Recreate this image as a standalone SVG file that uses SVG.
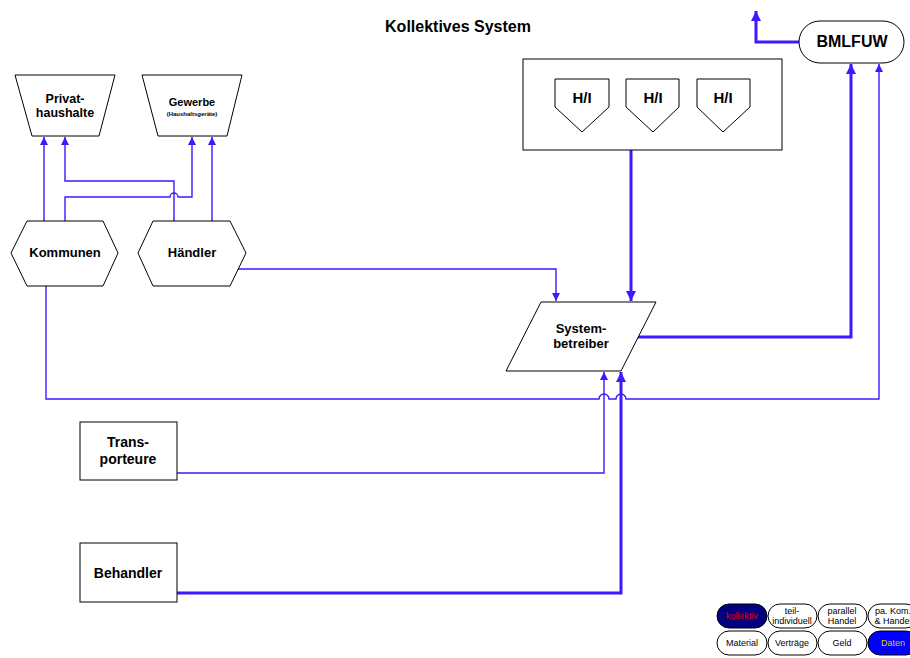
<svg xmlns="http://www.w3.org/2000/svg" width="910" height="658" viewBox="0 0 910 658">
  <style>
    .shape { fill: #ffffff; stroke: #000000; stroke-width: 1; }
    .lbl { font-family: "Liberation Sans", Arial, sans-serif; font-weight: bold; fill: #000000; text-anchor: middle; }
    .thin { fill: none; stroke: #3a1aff; stroke-width: 1.4; }
    .thick { fill: none; stroke: #3a1aff; stroke-width: 3; }
    .leg { font-family: "Liberation Sans", Arial, sans-serif; font-size: 9px; text-anchor: middle; fill: #000000; }
  </style>
  <defs>
    <marker id="ahThin" markerUnits="userSpaceOnUse" viewBox="0 0 10 10" refX="10" refY="5" markerWidth="8" markerHeight="8" orient="auto">
      <path d="M0,0 L10,5 L0,10 z" fill="#3a1aff"/>
    </marker>
    <marker id="ahThick" markerUnits="userSpaceOnUse" viewBox="0 0 10 10" refX="10" refY="5" markerWidth="11" markerHeight="10" orient="auto">
      <path d="M0,0 L10,5 L0,10 z" fill="#3a1aff"/>
    </marker>
  </defs>

  <rect width="910" height="658" fill="#ffffff"/>

  <text class="lbl" x="458" y="32" font-size="16">Kollektives System</text>

  <!-- connectors -->
  <g id="connectors">
    <!-- Kommunen -> Privathaushalte -->
    <path class="thin" d="M44,221 L44,137" marker-end="url(#ahThin)"/>
    <!-- Kommunen -> Gewerbe (hops over Händler line) -->
    <path class="thin" d="M65,221 L65,197 L170,197 A4,4 0 0 1 178,197 L192,197 L192,137" marker-end="url(#ahThin)"/>
    <!-- Händler -> Privathaushalte -->
    <path class="thin" d="M174,221 L174,181 L65,181 L65,137" marker-end="url(#ahThin)"/>
    <!-- Händler -> Gewerbe -->
    <path class="thin" d="M212,221 L212,137" marker-end="url(#ahThin)"/>
    <!-- Händler -> Systembetreiber -->
    <path class="thin" d="M238,269 L556,269 L556,301" marker-end="url(#ahThin)"/>
    <!-- Kommunen -> BMLFUW -->
    <path class="thin" d="M46,286 L46,399 L599,399 A5,5 0 0 1 609,399 L616,399 A5,5 0 0 1 626,399 L879,399 L879,64" marker-end="url(#ahThin)"/>
    <!-- H/I -> Systembetreiber -->
    <path class="thick" d="M631,150 L631,301" marker-end="url(#ahThick)"/>
    <!-- Systembetreiber -> BMLFUW -->
    <path class="thick" d="M638,337 L851,337 L851,64" marker-end="url(#ahThick)"/>
    <!-- BMLFUW -> upward -->
    <path class="thick" d="M799,42 L756,42 L756,11" marker-end="url(#ahThick)"/>
    <!-- Transporteure -> Systembetreiber -->
    <path class="thin" d="M177,473 L604,473 L604,372" marker-end="url(#ahThin)"/>
    <!-- Behandler -> Systembetreiber -->
    <path class="thick" d="M177,593 L621,593 L621,372" marker-end="url(#ahThick)"/>
  </g>

  <g id="privathaushalte">
    <polygon class="shape" points="15,75 115,75 99,136 32,136"/>
    <text class="lbl" x="65" y="103" font-size="12.5">Privat-</text>
    <text class="lbl" x="65" y="117" font-size="12.5">haushalte</text>
  </g>

  <g id="gewerbe">
    <polygon class="shape" points="142,75 242,75 227,136 158,136"/>
    <text class="lbl" x="192" y="106" font-size="11">Gewerbe</text>
    <text class="lbl" x="192" y="116" font-size="6">(Haushaltsgeräte)</text>
  </g>

  <g id="kommunen">
    <polygon class="shape" points="11,253 27,221 103,221 118,253 103,286 27,286"/>
    <text class="lbl" x="65" y="257" font-size="13">Kommunen</text>
  </g>

  <g id="haendler">
    <polygon class="shape" points="138,253 153,221 230,221 246,253 230,286 153,286"/>
    <text class="lbl" x="192" y="257" font-size="13">Händler</text>
  </g>

  <g id="hi-gruppe">
    <rect class="shape" x="523" y="59" width="259" height="91"/>
    <g id="hi1">
      <polygon class="shape" points="555,79 609,79 609,107 582,132 555,107"/>
      <text class="lbl" x="582" y="103" font-size="15">H/I</text>
    </g>
    <g id="hi2">
      <polygon class="shape" points="626,79 679,79 679,107 653,132 626,107"/>
      <text class="lbl" x="653" y="103" font-size="15">H/I</text>
    </g>
    <g id="hi3">
      <polygon class="shape" points="697,79 750,79 750,107 723,132 697,107"/>
      <text class="lbl" x="723" y="103" font-size="15">H/I</text>
    </g>
  </g>

  <g id="bmlfuw">
    <rect class="shape" x="799" y="21" width="105" height="42" rx="21" ry="21"/>
    <text class="lbl" x="852" y="47" font-size="16">BMLFUW</text>
  </g>

  <g id="systembetreiber">
    <polygon class="shape" points="541,302 656,302 621,371 506,371"/>
    <text class="lbl" x="581" y="333" font-size="13">System-</text>
    <text class="lbl" x="581" y="348" font-size="13">betreiber</text>
  </g>

  <g id="transporteure">
    <rect class="shape" x="80" y="422" width="97" height="58"/>
    <text class="lbl" x="128" y="447" font-size="14">Trans-</text>
    <text class="lbl" x="128" y="464" font-size="14">porteure</text>
  </g>

  <g id="behandler">
    <rect class="shape" x="80" y="543" width="97" height="59"/>
    <text class="lbl" x="128" y="578" font-size="14">Behandler</text>
  </g>

  <!-- legend -->
  <g id="legende">
    <rect x="717" y="604" width="50" height="24" rx="12" fill="#000080" stroke="#000000"/>
    <text class="leg" x="742" y="619" style="fill:#e00000">kollektiv</text>
    <rect class="shape" x="768" y="604" width="49" height="24" rx="12"/>
    <text class="leg" x="792" y="614">teil-</text>
    <text class="leg" x="792" y="624">individuell</text>
    <rect class="shape" x="818" y="604" width="49" height="24" rx="12"/>
    <text class="leg" x="842" y="614">parallel</text>
    <text class="leg" x="842" y="624">Handel</text>
    <rect class="shape" x="868" y="604" width="50" height="24" rx="12"/>
    <text class="leg" x="893" y="614">pa. Kom.</text>
    <text class="leg" x="893" y="624">&amp; Handel</text>

    <rect class="shape" x="717" y="631" width="50" height="24" rx="12"/>
    <text class="leg" x="742" y="646">Material</text>
    <rect class="shape" x="768" y="631" width="49" height="24" rx="12"/>
    <text class="leg" x="792" y="646">Verträge</text>
    <rect class="shape" x="818" y="631" width="49" height="24" rx="12"/>
    <text class="leg" x="842" y="646">Geld</text>
    <rect x="868" y="631" width="50" height="24" rx="12" fill="#0000ff" stroke="#000000"/>
    <text class="leg" x="893" y="646" style="fill:#d4d400">Daten</text>
  </g>
</svg>
